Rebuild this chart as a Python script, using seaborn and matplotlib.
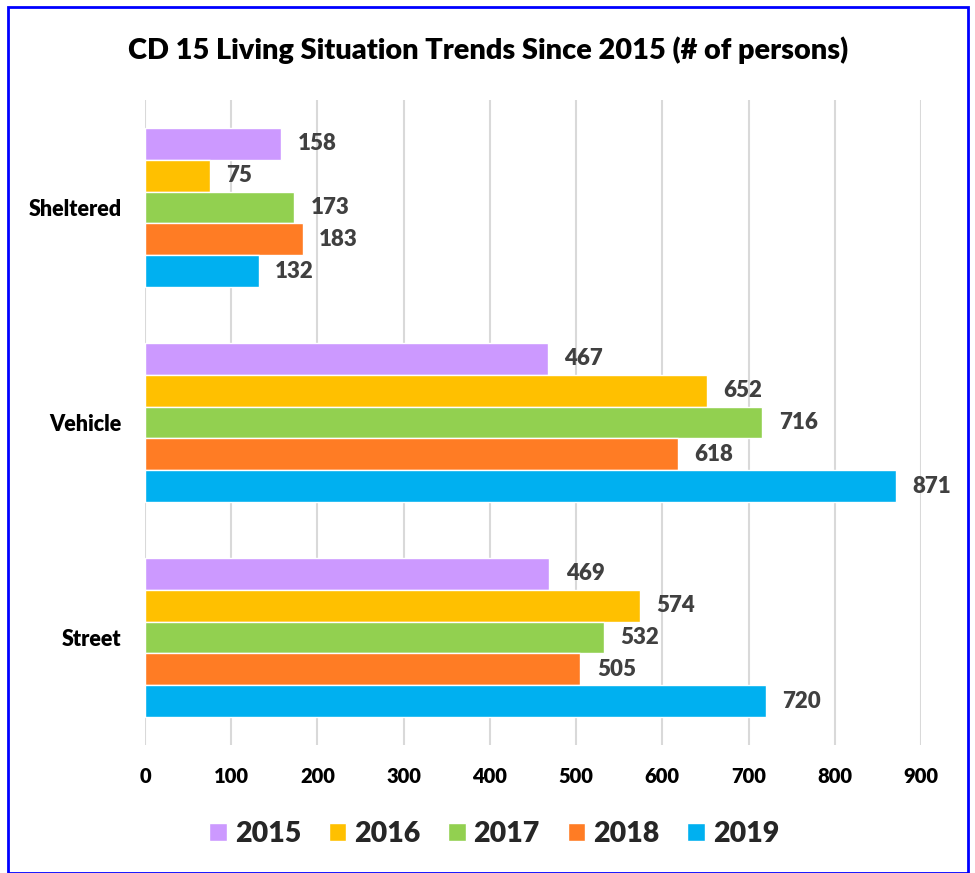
import matplotlib
matplotlib.use("Agg")
import matplotlib.pyplot as plt
import seaborn as sns
import pandas as pd
from matplotlib.patches import Rectangle

categories = ["Sheltered", "Vehicle", "Street"]
years = ["2015", "2016", "2017", "2018", "2019"]
values_2015 = [158, 467, 469]
values_2016 = [75, 652, 574]
values_2017 = [173, 716, 532]
values_2018 = [183, 618, 505]
values_2019 = [132, 871, 720]
colors = ["#CC99FF", "#FFC000", "#92D050", "#FF7C24", "#00B0F0"]
x_ticks = [0, 100, 200, 300, 400, 500, 600, 700, 800, 900]

series = [values_2015, values_2016, values_2017, values_2018, values_2019]
rows = []
for yr, vals in zip(years, series):
    for cat, v in zip(categories, vals):
        rows.append({"category": cat, "year": yr, "value": v})
df = pd.DataFrame(rows)

sns.set_theme(style="white")
plt.rcParams["font.family"] = ["Lato", "DejaVu Sans"]
W = "heavy"

fig = plt.figure(figsize=(9.75, 8.73), dpi=100)
ax = fig.add_axes([145/975, 1-745/873, (921-145)/975, (745-100)/873])

sns.barplot(data=df, y="category", x="value", hue="year", order=categories,
            hue_order=years, palette=colors, orient="h", width=0.74,
            saturation=1, ax=ax, legend=True)

ax.set_xlim(0, 900)
ax.set_ylim(2.5, -0.5)
ax.set_xticks(x_ticks)
ax.set_xticklabels([str(t) for t in x_ticks], fontsize=14.5, fontweight=W, color="black")
ax.tick_params(axis="x", length=0, pad=16)
ax.tick_params(axis="y", length=0, pad=17)
for lab in ax.get_yticklabels():
    lab.set_fontsize(15.5)
    lab.set_fontweight(W)
    lab.set_color("black")
ax.set_xlabel("")
ax.set_ylabel("")
ax.grid(axis="x", color="#D9D9D9", linewidth=1.5)
ax.set_axisbelow(True)
for s in ax.spines.values():
    s.set_visible(False)

for cont in ax.containers:
    for bar in cont:
        w = bar.get_width()
        yc = bar.get_y() + bar.get_height()/2
        ax.text(w + 19, yc, f"{int(round(w))}", va="center", ha="left",
                fontsize=16, fontweight=W, color="#404040", clip_on=False)

leg = ax.get_legend()
handles = leg.legend_handles
leg.remove()
fig.legend(handles, years, loc="center", bbox_to_anchor=(494/975, 1-834/873), ncol=5,
           frameon=False, prop={"weight": W, "size": 20.5}, handlelength=0.62,
           handleheight=0.62, handletextpad=0.28, columnspacing=0.97)

fig.text(488/975, 1-50/873, "CD 15 Living Situation Trends Since 2015 (# of persons)",
         ha="center", va="center", fontsize=20.8, fontweight=W, color="black")

fig.patches.append(Rectangle((8/975, 0), (968-8)/975, 1-7/873, transform=fig.transFigure,
                             fill=False, edgecolor="#0000FF", linewidth=2))

fig.savefig("out.png", dpi=100)
